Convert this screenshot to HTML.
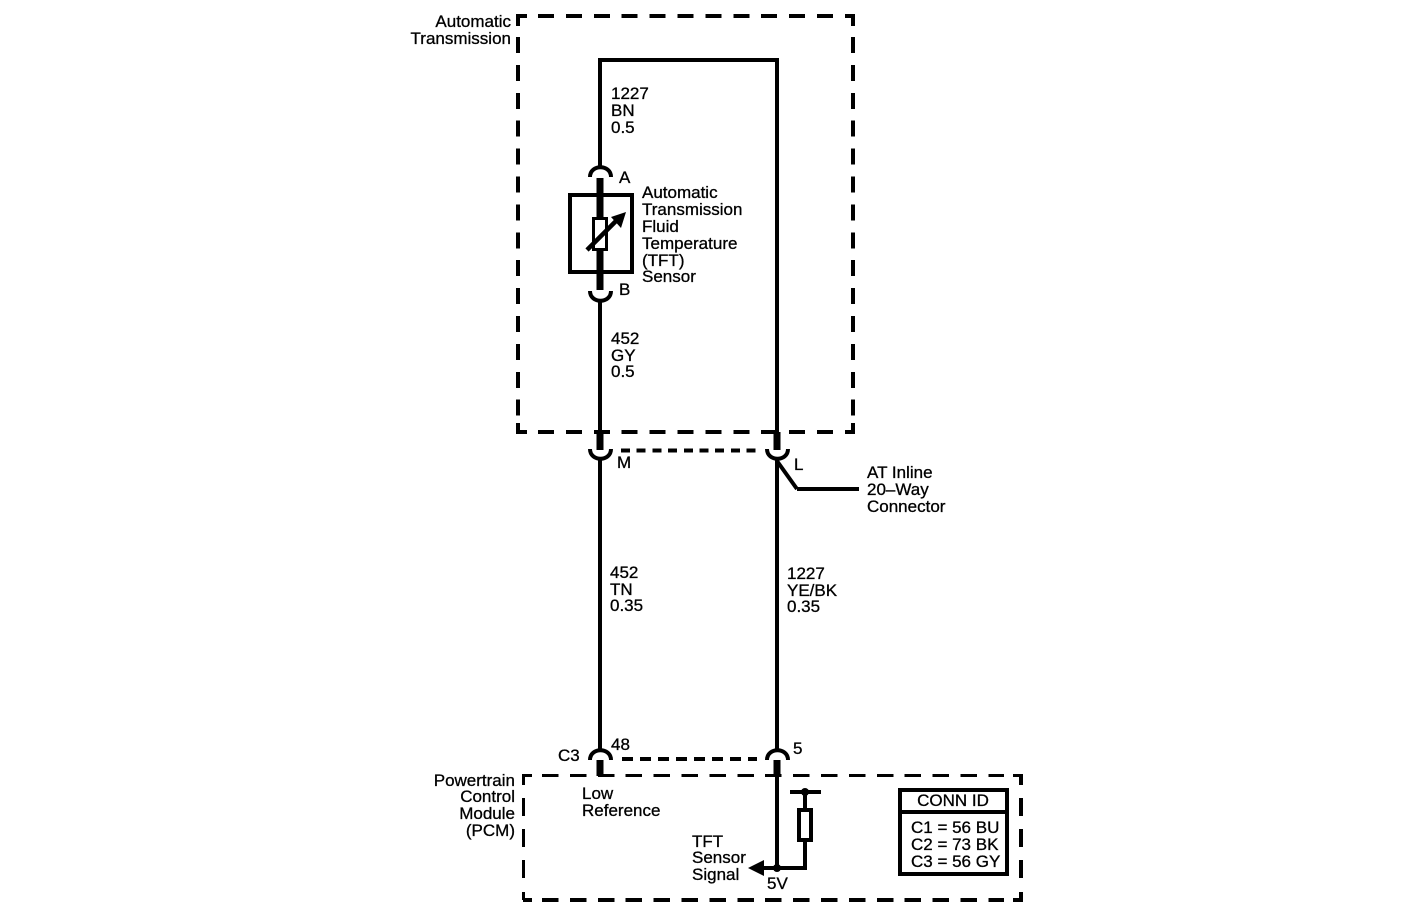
<!DOCTYPE html>
<html>
<head>
<meta charset="utf-8">
<style>
html,body{margin:0;padding:0;background:#fff;}
svg{display:block;}
text{font-family:"Liberation Sans",Arial,sans-serif;font-size:17px;fill:#000;stroke:#000;stroke-width:0.3px;}
.e{text-anchor:end;}
.m{text-anchor:middle;}
</style>
</head>
<body>
<svg width="1408" height="920" viewBox="0 0 1408 920" xmlns="http://www.w3.org/2000/svg">
<rect width="1408" height="920" fill="#fff"/>
<g fill="none" stroke="#000" shape-rendering="crispEdges">
  <!-- Automatic Transmission enclosure -->
  <g stroke-width="4">
    <path d="M518 26V16H527"/>
    <path d="M845 16H853V26"/>
    <path d="M518 423V432H527"/>
    <path d="M845 432H853V423"/>
    <path d="M538 16H836" stroke-dasharray="16 11.900"/>
    <path d="M538 432H836" stroke-dasharray="16 11.900"/>
    <path d="M518 37V416" stroke-dasharray="16 11.900"/>
    <path d="M853 37V416" stroke-dasharray="16 11.900"/>
  </g>
  <!-- PCM enclosure -->
  <g stroke-width="3">
    <path d="M532 775.500H523.500V785"/>
    <path d="M523.500 892V900"/>
    <path d="M1013 775.500H1021"/>
    <path d="M542 775.500H1004" stroke-dasharray="16.500 11.400"/>
    <path d="M523.500 798V879" stroke-dasharray="18 13"/>
  </g>
  <g stroke-width="4">
    <path d="M1021 774V785"/>
    <path d="M1021 798V879" stroke-dasharray="18 13"/>
    <path d="M1021 892V902"/>
    <path d="M523 900H532"/>
    <path d="M1013 900H1022"/>
    <path d="M542 900H1004" stroke-dasharray="16.500 11.400"/>
  </g>
  <!-- connector dashes -->
  <path d="M621 450.500H756" stroke-width="4" stroke-dasharray="9 6.700"/>
  <path d="M622 759H757" stroke-width="4" stroke-dasharray="11 7"/>
  <!-- wires -->
  <path d="M600 167V60H777V432" stroke-width="4"/>
  <path d="M600 300V432" stroke-width="4"/>
  <path d="M600 458V750" stroke-width="4"/>
  <path d="M777 458V750" stroke-width="4"/>
  <path d="M600 178V290" stroke-width="7"/>
  <path d="M600 432V450" stroke-width="7"/>
  <path d="M777 432V450" stroke-width="7"/>
  <path d="M600 760V776" stroke-width="7"/>
  <path d="M777 760V776" stroke-width="7"/>
  <path d="M777 776V868" stroke-width="4"/>
  <path d="M859 489H797" stroke-width="4"/>
  <!-- sensor -->
  <rect x="570" y="195" width="62" height="77" stroke-width="4"/>
  <rect x="593.500" y="218.500" width="13" height="31" stroke-width="3" fill="#fff"/>
  <!-- PCM internals -->
  <path d="M790 792H821" stroke-width="4"/>
  <path d="M805 792V808M805 840V868H760" stroke-width="4"/>
  <rect x="799" y="810" width="12" height="30" stroke-width="4" fill="#fff"/>
  <!-- conn id -->
  <rect x="900" y="790" width="107" height="84" stroke-width="4" fill="#fff"/>
  <path d="M900 812H1007" stroke-width="4"/>
</g>
<g fill="none" stroke="#000" stroke-width="4">
  <!-- terminals -->
  <path d="M590 177C590 164 611 164 611 177"/>
  <path d="M590 291C590 304 611 304 611 291"/>
  <path d="M590 449C590 462 611 462 611 449"/>
  <path d="M767 449C767 462 788 462 788 449"/>
  <path d="M590 760C590 747 611 747 611 760"/>
  <path d="M767 760C767 747 788 747 788 760"/>
  <path d="M777 461L797 489"/>
  <path d="M587 250L618 219" stroke-width="4.500"/>
</g>
<polygon points="626,212 611,217 621,228" fill="#000"/>
<polygon points="748,868 764,860 764,876" fill="#000"/>
<circle cx="777" cy="868" r="4" fill="#000"/>
<circle cx="805" cy="792" r="4" fill="#000"/>

<text class="e" x="511" y="27">Automatic</text>
<text class="e" x="511" y="44">Transmission</text>

<text x="611" y="99">1227</text>
<text x="611" y="116">BN</text>
<text x="611" y="133">0.5</text>

<text x="619" y="183">A</text>
<text x="619" y="295">B</text>

<text x="642" y="198">Automatic</text>
<text x="642" y="215">Transmission</text>
<text x="642" y="232">Fluid</text>
<text x="642" y="249">Temperature</text>
<text x="642" y="266">(TFT)</text>
<text x="642" y="282">Sensor</text>

<text x="611" y="344">452</text>
<text x="611" y="361">GY</text>
<text x="611" y="377">0.5</text>

<text x="617" y="468">M</text>
<text x="794" y="470">L</text>

<text x="867" y="478">AT Inline</text>
<text x="867" y="495">20–Way</text>
<text x="867" y="512">Connector</text>

<text x="610" y="578">452</text>
<text x="610" y="595">TN</text>
<text x="610" y="611">0.35</text>

<text x="787" y="579">1227</text>
<text x="787" y="596">YE/BK</text>
<text x="787" y="612">0.35</text>

<text x="558" y="761">C3</text>
<text x="611" y="750">48</text>
<text x="793" y="754">5</text>

<text class="e" x="515" y="786">Powertrain</text>
<text class="e" x="515" y="802">Control</text>
<text class="e" x="515" y="819">Module</text>
<text class="e" x="515" y="836">(PCM)</text>

<text x="582" y="799">Low</text>
<text x="582" y="816">Reference</text>

<text x="692" y="847">TFT</text>
<text x="692" y="863">Sensor</text>
<text x="692" y="880">Signal</text>
<text x="767" y="889">5V</text>

<text class="m" x="953" y="806">CONN ID</text>
<text x="911" y="833">C1 = 56 BU</text>
<text x="911" y="850">C2 = 73 BK</text>
<text x="911" y="867">C3 = 56 GY</text>
</svg>
</body>
</html>
